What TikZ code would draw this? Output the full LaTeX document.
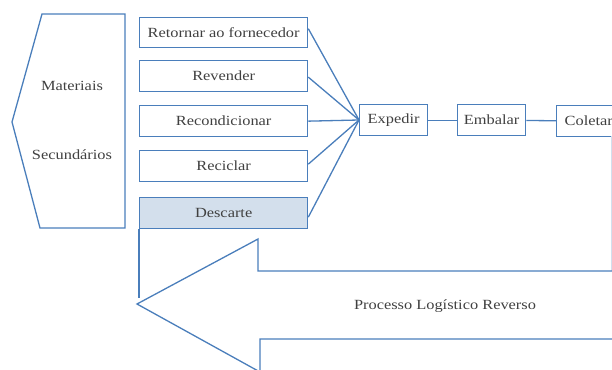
\documentclass[tikz,border=0pt]{standalone}
\usepackage{fontspec}
\setmainfont[FakeStretch=1.17]{Liberation Serif}
\definecolor{lblue}{HTML}{4A7EBB}
\definecolor{lfill}{HTML}{D3DFEC}
\definecolor{ltext}{HTML}{404040}
\begin{document}
\begin{tikzpicture}[x=1pt,y=-1pt,
  line width=1.3pt,
  tx/.style={text=ltext,font=\fontsize{14}{16}\selectfont},
  bx/.style={tx,draw=lblue,inner sep=0pt,anchor=north west},
  ln/.style={draw=lblue}]
\useasboundingbox (0,0) rectangle (612,369);
\begin{scope}
\clip (0,0) rectangle (612,369);
% left shape
\draw[ln] (42,14) -- (125,14) -- (125,228) -- (40,228) -- (12,122) -- cycle;
\node[tx] (mat) at (72,86) {Materiais};
\node[tx] (sec) at (72,155) {Secundários};
% boxes
\node[bx,minimum width=168pt,minimum height=30pt] (b1) at (139,17) {Retornar ao fornecedor};
\node[bx,minimum width=168pt,minimum height=31pt] (b2) at (139,60) {Revender};
\node[bx,minimum width=168pt,minimum height=31pt] (b3) at (139,105) {Recondicionar};
\node[bx,minimum width=168pt,minimum height=31pt] (b4) at (139,150) {Reciclar};
\node[bx,fill=lfill,minimum width=168pt,minimum height=31pt] (b5) at (139,197) {Descarte};
\node[bx,minimum width=68pt,minimum height=31pt] (exp) at (359,104) {Expedir};
\node[bx,minimum width=68pt,minimum height=31pt] (emb) at (457,104) {Embalar};
\node[bx,minimum width=80pt,minimum height=31pt,text width=80pt,align=left] (col) at (556,105) {\hspace{8pt}Coletar};
\coordinate (ein) at (359,120);
\draw[ln] ([yshift=4pt]b1.east) -- (ein);
\draw[ln] ([yshift=-1pt]b2.east) -- (ein);
\draw[ln] (b3.east) -- (ein);
\draw[ln] ([yshift=2pt]b4.east) -- (ein);
\draw[ln] ([yshift=-4pt]b5.east) -- (ein);
\draw[ln] (exp) -- (emb);
\draw[ln] (emb) -- (col);
% faint right line
\draw[draw=lblue!25,line width=0.8pt] (611,136) -- (611,271);
% big reverse arrow
\coordinate (tip) at (137,304);
\draw[ln] (b5.south west) -- ++(0,69);
\draw[ln] (612,271) -- (258,271) -- (258,239) -- (tip) -- (260,372) -- (260,339) -- (612,339);
\node[tx] (prl) at (445,306) {Processo Logístico Reverso};
\end{scope}
\end{tikzpicture}
\end{document}
